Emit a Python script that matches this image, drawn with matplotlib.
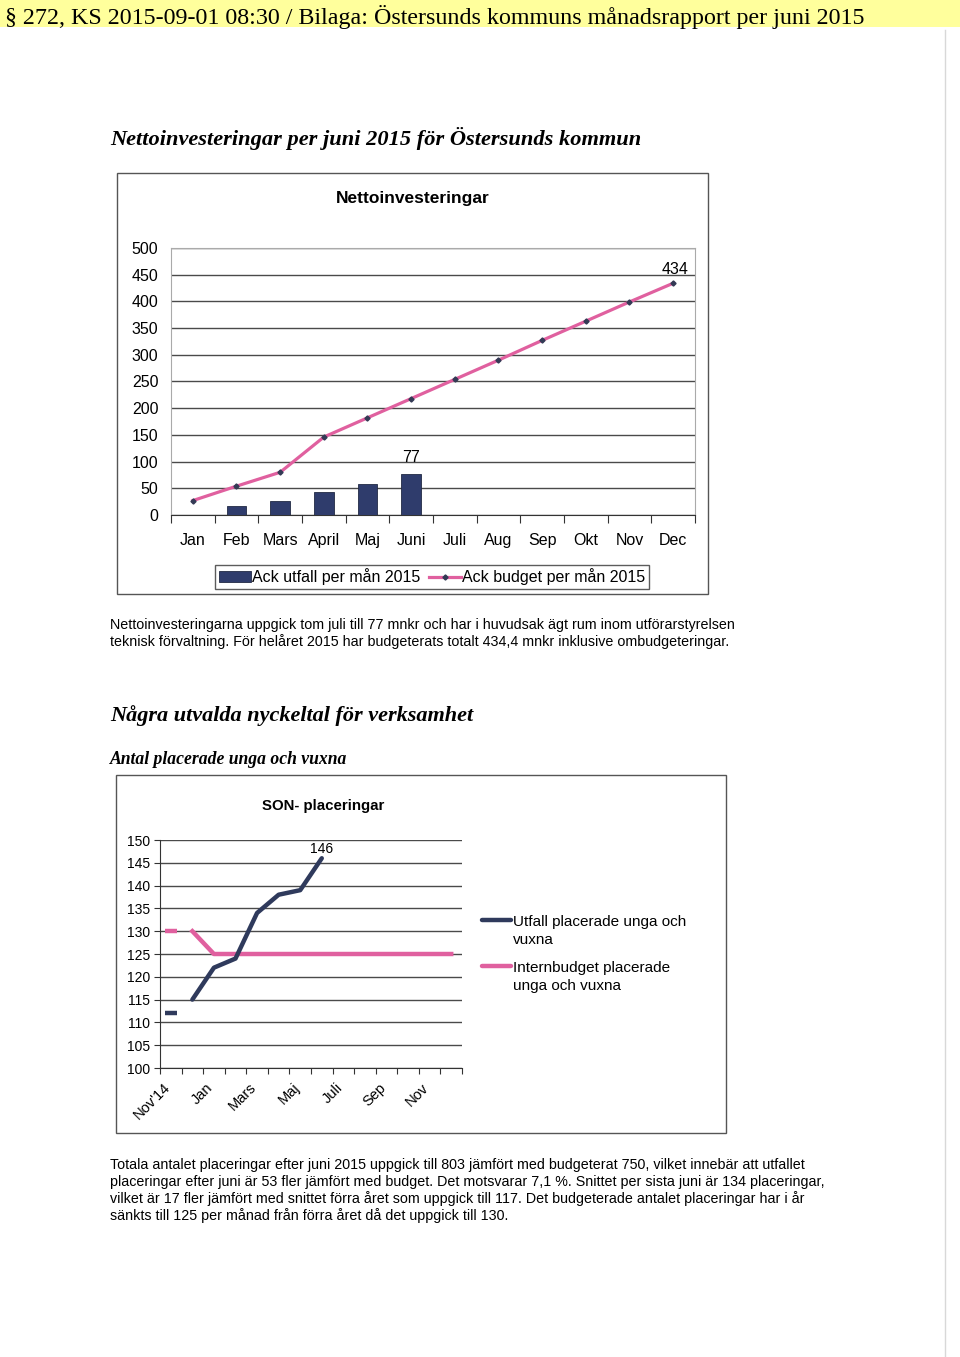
import numpy as np
import matplotlib
matplotlib.use("Agg")
import matplotlib.pyplot as plt
from matplotlib.patches import Rectangle
from matplotlib.lines import Line2D
from matplotlib.transforms import ScaledTranslation

W, H = 960, 1357

# --- data: Nettoinvesteringar (mnkr, ackumulerat) ---
months_top = ['Jan', 'Feb', 'Mars', 'April', 'Maj', 'Juni',
              'Juli', 'Aug', 'Sep', 'Okt', 'Nov', 'Dec']
utfall_top = [0, 16, 27, 44, 58, 77]
budget_top = [27, 54, 80, 146, 182, 218, 254, 290, 327, 363, 399, 434]

# --- data: SON-placeringar ---
months_bot = ["Nov'14", 'Dec', 'Jan', 'Feb', 'Mars', 'April', 'Maj',
              'Juni', 'Juli', 'Aug', 'Sep', 'Okt', 'Nov', 'Dec']
utfall_bot = [112, 115, 122, 124, 134, 138, 139, 146]
budget_bot = [130, 130, 125, 125, 125, 125, 125, 125, 125, 125, 125, 125, 125, 125]

navy = '#2f3c6c'
dark = '#2f3a5c'
pink = '#e0609f'
grid_c = '#4a4a4a'


def rect(x0, y0, x1, y1):
    # pixel box (top-left origin) -> figure fraction
    return [x0 / W, 1 - y1 / H, (x1 - x0) / W, (y1 - y0) / H]


def ftext(x, y, s, **kw):
    kw.setdefault('va', 'center')
    fig.text(x / W, 1 - y / H, s, **kw)


def fline(x0, y0, x1, y1, **kw):
    fig.add_artist(Line2D([x0 / W, x1 / W], [1 - y0 / H, 1 - y1 / H],
                          transform=fig.transFigure, **kw))


def frame(x0, y0, x1, y1):
    fig.patches.append(Rectangle((x0 / W, 1 - y1 / H), (x1 - x0) / W, (y1 - y0) / H,
                                 transform=fig.transFigure, fill=False,
                                 edgecolor='#555555', linewidth=1.0))


fig = plt.figure(figsize=(W / 100, H / 100), dpi=100)
sans = 'Liberation Sans'
serif = 'Liberation Serif'

# header band
fig.patches.append(Rectangle((0, 1 - 27 / H), 1, 27 / H, transform=fig.transFigure,
                             facecolor='#ffff9c', edgecolor='none'))
ftext(5, 17, '§ 272, KS 2015-09-01 08:30 / Bilaga: Östersunds kommuns månadsrapport per juni 2015',
      family=serif, fontsize=17.3)
fline(945, 30, 945, H, color='#d8d8d8', linewidth=1)

ftext(110, 138, 'Nettoinvesteringar per juni 2015 för Östersunds kommun',
      family=serif, fontsize=16.1, style='italic', weight='bold')

# ---------------- top chart ----------------
frame(117, 173, 708, 594)
ftext(413, 198, 'Nettoinvesteringar', family=sans, fontsize=12.5, weight='bold', ha='center')

ax = fig.add_axes(rect(171, 248, 695, 515))
xt = np.arange(len(months_top))
bars = ax.bar(xt[1:len(utfall_top)], utfall_top[1:], width=0.45, color=navy,
              edgecolor='#222a44', linewidth=0.6, zorder=3)
ln, = ax.plot(xt, budget_top, color=pink, linewidth=2.3, marker='D', markersize=2.6,
              markerfacecolor='#333a55', markeredgecolor='#333a55', zorder=4)
ax.text(xt[len(utfall_top) - 1], utfall_top[-1] + 16, str(utfall_top[-1]),
        ha='center', va='bottom', family=sans, fontsize=11.5)
ax.text(xt[-1] + 0.05, budget_top[-1] + 12, str(budget_top[-1]),
        ha='center', va='bottom', family=sans, fontsize=11.5)
ax.set_xlim(-0.5, len(months_top) - 0.5)
ax.set_ylim(0, 500)
ax.set_yticks(np.arange(0, 501, 50))
ax.yaxis.grid(True, color=grid_c, linewidth=1)
ax.set_axisbelow(True)
ax.tick_params(axis='y', length=0, pad=9, labelsize=11.5)
for lb in ax.get_yticklabels():
    lb.set_family(sans)
ax.set_xticks(np.arange(-0.5, len(months_top)), [])
ax.set_xticks(xt, months_top, minor=True)
ax.tick_params(axis='x', which='major', length=6, direction='out', color='#333333')
ax.tick_params(axis='x', which='minor', length=0, pad=13, labelsize=11.5)
for lb in ax.get_xticklabels(minor=True):
    lb.set_family(sans)
for s in ['top', 'right', 'left']:
    ax.spines[s].set_color('#aaaaaa')
ax.spines['bottom'].set_color('#333333')
leg = ax.legend([bars, ln], ['Ack utfall per mån 2015', 'Ack budget per mån 2015'],
                loc='center', bbox_to_anchor=(432 / W, 1 - 577 / H),
                bbox_transform=fig.transFigure, ncol=2, frameon=True, fancybox=False,
                prop={'family': sans, 'size': 11.5}, handlelength=2.0, handletextpad=0.1,
                columnspacing=0.5, borderpad=0.25, borderaxespad=0)
leg.get_frame().set_edgecolor('#333333')
leg.get_frame().set_linewidth(1)

ftext(110, 625, 'Nettoinvesteringarna uppgick tom juli till 77 mnkr och har i huvudsak ägt rum inom utförarstyrelsen',
      family=sans, fontsize=10.3)
ftext(110, 642, 'teknisk förvaltning. För helåret 2015 har budgeterats totalt 434,4 mnkr inklusive ombudgeteringar.',
      family=sans, fontsize=10.3)

ftext(110, 716, 'Några utvalda nyckeltal för verksamhet',
      family=serif, fontsize=16, style='italic', weight='bold')
ftext(110, 760, 'Antal placerade unga och vuxna',
      family=serif, fontsize=12.7, style='italic', weight='bold')

# ---------------- bottom chart ----------------
frame(116, 775, 726, 1133)
ftext(323, 806, 'SON- placeringar', family=sans, fontsize=10.8, weight='bold', ha='center')

bx = fig.add_axes(rect(160, 840, 462, 1068))
xb = np.arange(len(months_bot))
bx.plot(xb[1:len(utfall_bot)], utfall_bot[1:], color=dark, linewidth=3.2,
        solid_capstyle='round', zorder=4)
bx.plot(xb[1:], budget_bot[1:], color=pink, linewidth=3.2, zorder=3)
bx.plot(xb[0], utfall_bot[0], marker='_', markersize=9, markeredgewidth=3.2,
        color=dark, zorder=4)
bx.plot(xb[0], budget_bot[0], marker='_', markersize=9, markeredgewidth=3.2,
        color=pink, zorder=3)
bx.text(xb[len(utfall_bot) - 1], utfall_bot[-1] + 0.6, str(utfall_bot[-1]),
        ha='center', va='bottom', family=sans, fontsize=10)
bx.set_xlim(-0.5, len(months_bot) - 0.5)
bx.set_ylim(100, 150)
bx.set_yticks(np.arange(100, 151, 5))
bx.yaxis.grid(True, color=grid_c, linewidth=1)
bx.set_axisbelow(True)
bx.tick_params(axis='y', length=4, color='#333333', pad=3, labelsize=10)
for lb in bx.get_yticklabels():
    lb.set_family(sans)
bx.set_xticks(np.arange(-0.5, len(months_bot)), [])
bx.set_xticks(xb[::2], months_bot[::2], minor=True)
bx.tick_params(axis='x', which='major', length=4, direction='out', color='#333333')
bx.tick_params(axis='x', which='minor', length=0, pad=9, labelsize=10.5)
shift = ScaledTranslation(-8 / 100, 0, fig.dpi_scale_trans)
for lb in bx.get_xticklabels(minor=True):
    lb.set_family(sans)
    lb.set_rotation(45)
    lb.set_ha('right')
    lb.set_va('top')
    lb.set_rotation_mode('anchor')
    lb.set_transform(lb.get_transform() + shift)
for s in ['top', 'right']:
    bx.spines[s].set_visible(False)
bx.spines['left'].set_color('#333333')
bx.spines['bottom'].set_color('#333333')

# legend of the bottom chart (handle aligned with first text line)
leg_items = [(dark, ['Utfall placerade unga och', 'vuxna'], 922),
             (pink, ['Internbudget placerade', 'unga och vuxna'], 968)]
for col, lines, y0 in leg_items:
    fline(482, y0 - 2, 511, y0 - 2, color=col, linewidth=3.2, solid_capstyle='round')
    for k, t in enumerate(lines):
        ftext(513, y0 + 18 * k, t, family=sans, fontsize=11)

para = ['Totala antalet placeringar efter juni 2015 uppgick till 803 jämfört med budgeterat 750, vilket innebär att utfallet',
        'placeringar efter juni är 53 fler jämfört med budget. Det motsvarar 7,1 %. Snittet per sista juni är 134 placeringar,',
        'vilket är 17 fler jämfört med snittet förra året som uppgick till 117. Det budgeterade antalet placeringar har i år',
        'sänkts till 125 per månad från förra året då det uppgick till 130.']
for i, line in enumerate(para):
    ftext(110, 1165 + 17 * i, line, family=sans, fontsize=10.3)

fig.savefig('out.png', dpi=100)
